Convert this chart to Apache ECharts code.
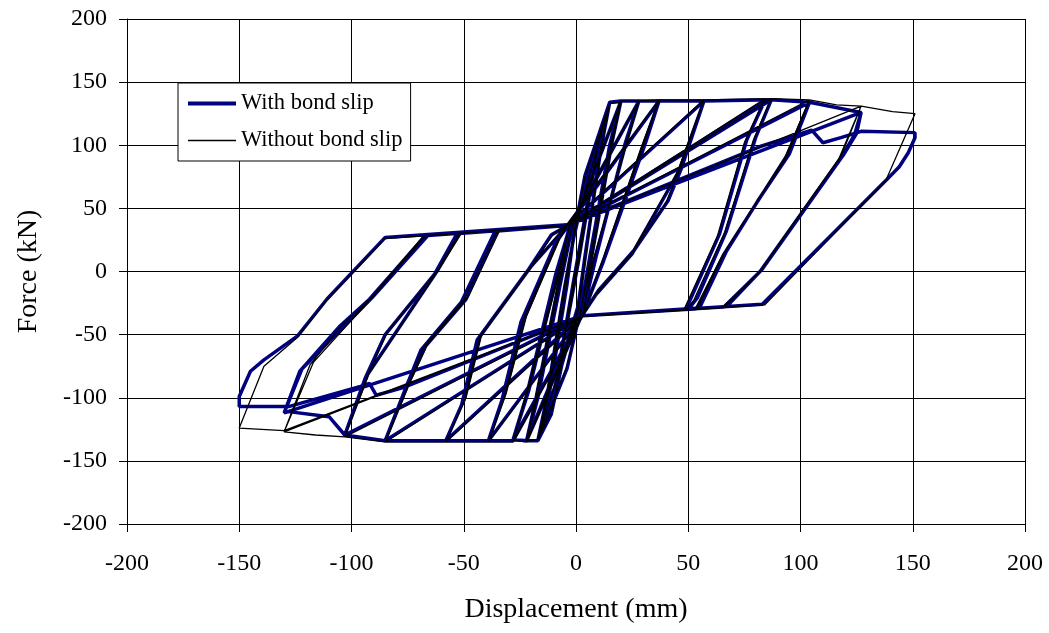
<!DOCTYPE html>
<html>
<head>
<meta charset="utf-8">
<title>Force - displacement hysteresis</title>
<script src="https://cdn.jsdelivr.net/npm/echarts@6/dist/echarts.min.js"></script>
<style>
  html, body { margin: 0; padding: 0; background: #fff; }
  #chart { width: 1049px; height: 633px; }
</style>
</head>
<body>
<div id="chart"></div>
<script>
// series names, as in the legend
const seriesNames = ['With bond slip', 'Without bond slip']

// axis range and tick step (mm / kN)
const axisRange = [-200, 200]
const tickStep = 50

// [displacement mm, force kN]
const withBondSlip = [
  [0, 0], [4, 41], [0, 3], [-4, -39], [0, -2], [8, 81], [1, 7], [-8, -79], [-1, -7],
  // +15 / -17
  [6, 63], [11, 113], [15, 134], [11, 96], [4, 12], [1, -27], [-5, -63], [-11, -113], [-17, -134], [-13, -100], [-5, -12], [-1, 27],
  [5, 72], [15, 134], [11, 99], [4, 10], [1, -29], [-6, -72], [-17, -134], [-12, -98], [-4, -10], [-1, 29],
  // +20 / -22
  [4, 76], [15, 134], [20, 135], [16, 102], [7, 12], [2, -31], [-4, -77], [-17, -134], [-22, -134], [-18, -102], [-8, -12], [-2, 32],
  [20, 135], [15, 100], [6, 10], [2, -32], [-22, -134], [-17, -100], [-7, -10], [-2, 33],
  // +28 / -28
  [20, 135], [28, 135], [22, 102], [9, 12], [3, -33], [-22, -134], [-28, -133], [-22, -98], [-9, -2], [-3, 34],
  [28, 135], [22, 100], [8, 7], [3, -34], [-28, -133], [-21, -94], [-8, 0], [-3, 35],
  // +37 / -39
  [28, 135], [37, 135], [31, 102], [13, 12], [5, -24], [3, -34], [-28, -134], [-39, -134], [-33, -102], [-24.5, -40], [-9, 23], [-4, 35],
  [37, 135], [30, 100], [12, 7], [3, -34], [-39, -134], [-32, -98], [-23, -37], [-8, 26], [-4, 36],
  // +57 / -58
  [37, 135], [57, 135], [47, 82], [41, 56], [26, 17], [10, -15], [3, -34], [-39, -134], [-58, -134], [-51, -106], [-44, -54], [-21, 2], [-11, 29], [-4, 36],
  [57, 135], [46, 80], [25, 14], [9, -18], [3, -34], [-58, -134], [-50, -102], [-43, -52], [-20, 4], [-4, 36],
  // +87 / -85
  [57, 135], [87, 136], [80, 106], [67, 32], [54, -21], [50, -30], [3, -35], [-58, -134], [-85, -134], [-76, -93], [-69, -62], [-51, -24], [-36, 32], [-4, 36.5],
  [84, 135], [76, 104], [64, 30], [49, -30], [3, -35], [-85, -134], [-75, -90], [-67, -59], [-49, -22], [-35, 32], [-4, 36.5],
  // +104 / -103
  [87, 136], [104, 134], [95, 93], [81, 56], [67, 16], [55, -29], [3, -35], [-85, -134], [-103, -129.5], [-94, -85], [-85, -50], [-63, -2], [-53, 30], [-4, 36.5],
  [104, 134], [94, 92], [66, 14], [54, -29.5], [3, -35], [-103, -129.5], [-93, -82], [-62, 0], [-52, 30], [-4, 36.5],
  // +127 / -130
  [104, 134], [127, 126], [125, 109.5], [119, 92], [83, 2], [67, -28], [3, -35], [-103, -129.5], [-110, -115], [-128, -111], [-130, -112], [-123, -79], [-105, -43], [-92, -22], [-67, 28.5], [-4, 36.5],
  [127, 126], [124, 108], [118, 90], [82, 0], [66, -28], [3, -35], [-130, -112], [-122, -77], [-91, -21], [-66, 28.5], [-4, 36.5],
  // +151 / -150
  [82, 99], [105, 112], [110, 102], [118, 106], [127, 111], [151, 110], [151, 106], [148, 94], [144, 83], [138, 72], [83, -26], [3, -35],
  [-77, -92], [-89, -98], [-92, -88.6], [-96, -91], [-128, -107], [-150, -107], [-150, -99], [-145, -79], [-139, -70], [-124, -51], [-111, -22], [-85, 27], [-4, 37]
]

const withoutBondSlip = [
  [0, 0], [4, 40], [0, 2], [-4, -40], [0, -2], [8, 82], [1, 6], [-8, -80], [-1, -6],
  // +15 / -17
  [6, 62], [11, 112], [15, 133], [11, 95], [4, 10], [1, -28], [-5, -62], [-11, -112], [-17, -133], [-13, -98], [-5, -10], [-1, 28],
  [5, 70], [15, 133], [11, 97], [4, 8], [1, -30], [-6, -70], [-17, -133], [-12, -96], [-4, -8], [-1, 30],
  // +20 / -22
  [4, 75], [15, 133], [20, 134], [16, 100], [7, 10], [2, -32], [-4, -75], [-17, -133], [-22, -134], [-18, -100], [-8, -10], [-2, 33],
  [20, 134], [15, 98], [6, 8], [2, -33], [-22, -134], [-17, -98], [-7, -8], [-2, 34],
  // +28 / -28
  [20, 135], [28, 135], [22, 100], [8, 10], [3, -34], [-22, -135], [-28, -134], [-22, -96], [-8, 0], [-3, 35],
  [28, 135], [22, 98], [7, 5], [3, -35], [-28, -134], [-21, -92], [-7, 2], [-3, 36],
  // +37 / -39
  [28, 135], [37, 136], [30, 100], [12, 10], [5, -25], [3, -35], [-28, -135], [-39, -135], [-32, -100], [-23.5, -38], [-8, 25], [-4, 36],
  [37, 136], [29, 98], [11, 5], [3, -35], [-39, -135], [-31, -96], [-22, -35], [-7, 27], [-4, 37],
  // +57 / -58
  [37, 136], [57, 136], [46, 80], [40, 54], [25, 15], [9, -17], [3, -35], [-39, -135], [-58, -135], [-50, -104], [-43, -52], [-20, 4], [-10, 30], [-4, 37],
  [57, 136], [45, 78], [24, 12], [8, -20], [3, -35], [-58, -135], [-49, -100], [-42, -50], [-19, 6], [-4, 37],
  // +87 / -85
  [57, 136], [87, 137], [79, 104], [66, 30], [52.5, -22.6], [49, -30.5], [3, -35.5], [-58, -135], [-85, -135], [-75, -91], [-68, -60], [-50, -22.6], [-35, 32.5], [-4, 36.5],
  [84, 136.5], [75, 102], [63, 28], [48, -30.5], [3, -35.5], [-85, -135], [-74, -88], [-66, -57], [-48, -20], [-34, 32.5], [-4, 36.5],
  // +104 / -103
  [87, 137], [104, 136], [94, 91], [80, 54], [66, 14.6], [54, -30], [3, -35.5], [-85, -135], [-103, -131], [-93, -83], [-84, -48], [-62, 0], [-52, 30.2], [-4, 36.5],
  [104, 136], [93, 90], [65, 12], [53, -30], [3, -35.5], [-103, -131], [-92, -80], [-61, 2], [-51, 30.4], [-4, 36.5],
  // +127 / -130
  [104, 136], [116, 132], [127, 131], [118, 91], [82, 0], [66, -28.5], [3, -35.5], [-103, -131], [-116, -129.5], [-130, -127], [-118.5, -74], [-105, -44], [-92, -22.6], [-68, 28], [-4, 36.5],
  [127, 131], [117, 89], [81, -2], [65, -28.6], [3, -35.5], [-130, -127], [-117, -72], [-91, -21], [-67, 28.2], [-4, 36.5],
  // +151 / -150
  [127, 131], [141, 126.6], [151, 125], [138, 72], [84, -26.5], [3, -35.5],
  [-130, -126], [-150, -124], [-139, -75], [-124, -52], [-111, -22.6], [-85, 26], [-4, 36.5]
]

const chart = echarts.init(document.getElementById('chart'))

const serif = '"Liberation Serif", "Times New Roman", serif'

const axisCommon = {
  type: 'value',
  min: axisRange[0],
  max: axisRange[1],
  interval: tickStep,
  nameLocation: 'middle',
  nameTextStyle: { fontFamily: serif, fontSize: 28, color: '#000' },
  axisLine: { show: true, onZero: false, lineStyle: { color: '#000', width: 1 } },
  axisTick: { show: true, inside: false, length: 8, lineStyle: { color: '#000', width: 1 } },
  axisLabel: { fontFamily: serif, fontSize: 24, color: '#000' },
  splitLine: { show: true, lineStyle: { color: '#000', width: 1 } }
}

const option = {
  animation: false,
  backgroundColor: '#fff',
  grid: { left: 127, right: 24, top: 19, bottom: 109, containLabel: false },
  legend: {
    orient: 'vertical',
    left: 178,
    top: 83,
    padding: [9, 8, 9, 8],
    itemGap: 14,
    itemWidth: 48,
    itemHeight: 24,
    backgroundColor: '#fff',
    borderColor: '#000',
    borderWidth: 1,
    borderRadius: 0,
    data: [
      { name: seriesNames[0], lineStyle: { color: '#000080', width: 4 } },
      { name: seriesNames[1], lineStyle: { color: '#000', width: 1.3 } }
    ],
    // line only, no marker
    itemStyle: { opacity: 0 },
    textStyle: { fontFamily: serif, fontSize: 22.5, color: '#000' }
  },
  xAxis: Object.assign({}, axisCommon, {
    name: 'Displacement (mm)',
    nameGap: 72,
    axisLabel: Object.assign({}, axisCommon.axisLabel, { margin: 28 })
  }),
  yAxis: Object.assign({}, axisCommon, {
    name: 'Force (kN)',
    nameGap: 84,
    axisLabel: Object.assign({}, axisCommon.axisLabel, { margin: 20 })
  }),
  series: [
    {
      name: seriesNames[0],
      type: 'line',
      data: withBondSlip,
      symbol: 'none',
      showSymbol: false,
      lineStyle: { color: '#000080', width: 3.5 },
      itemStyle: { color: '#000080' },
      z: 2
    },
    {
      name: seriesNames[1],
      type: 'line',
      data: withoutBondSlip,
      symbol: 'none',
      showSymbol: false,
      lineStyle: { color: '#000', width: 1.3 },
      itemStyle: { color: '#000' },
      z: 3
    }
  ]
}

chart.setOption(option)
window.addEventListener('resize', () => chart.resize())
</script>
</body>
</html>
